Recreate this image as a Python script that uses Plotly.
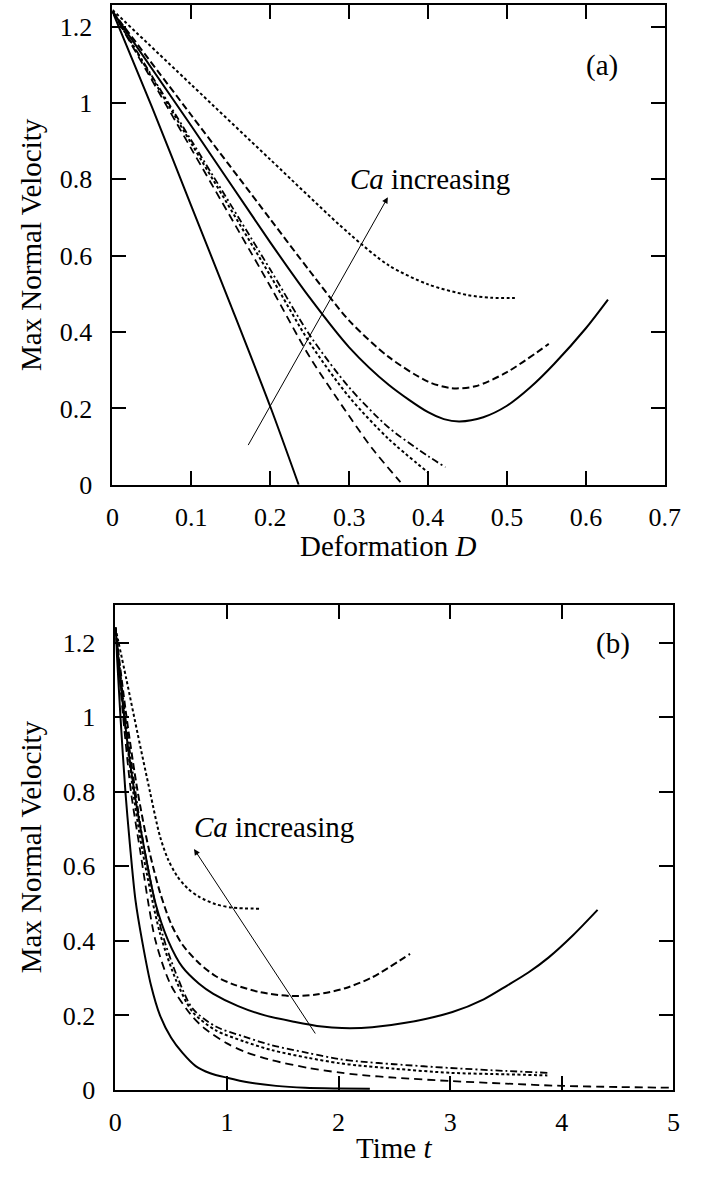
import plotly.graph_objects as go

# ---------------- panel (a): max normal velocity vs deformation D ----------------
a1_D = [0, 0.05, 0.10, 0.15, 0.20, 0.236]
a1_V = [1.24, 0.99, 0.73, 0.47, 0.205, 0.0]

a2_D = [0, 0.10, 0.20, 0.25, 0.30, 0.33, 0.365]
a2_V = [1.24, 0.88, 0.52, 0.335, 0.18, 0.093, 0.007]

a3_D = [0, 0.10, 0.20, 0.25, 0.30, 0.35, 0.3995]
a3_V = [1.24, 0.894, 0.548, 0.372, 0.23, 0.12, 0.033]

a4_D = [0, 0.10, 0.20, 0.25, 0.30, 0.35, 0.40, 0.422]
a4_V = [1.24, 0.902, 0.564, 0.392, 0.255, 0.15, 0.075, 0.046]

a5_D = [0, 0.10, 0.20, 0.25, 0.30, 0.35, 0.40, 0.42, 0.44, 0.47, 0.50, 0.53, 0.56, 0.60, 0.628]
a5_V = [1.24, 0.94, 0.635, 0.49, 0.36, 0.262, 0.19, 0.172, 0.166, 0.177, 0.207, 0.256, 0.317, 0.41, 0.485]

a6_D = [0, 0.10, 0.20, 0.25, 0.30, 0.35, 0.40, 0.43, 0.46, 0.50, 0.553]
a6_V = [1.24, 0.968, 0.696, 0.56, 0.43, 0.335, 0.27, 0.253, 0.258, 0.295, 0.369]

a7_D = [0, 0.10, 0.20, 0.30, 0.35, 0.40, 0.45, 0.48, 0.51]
a7_V = [1.244, 1.048, 0.852, 0.658, 0.575, 0.525, 0.497, 0.490, 0.489]

# ---------------- panel (b): max normal velocity vs time t ----------------
b1_t = [0, 0.046, 0.09, 0.13, 0.18, 0.24, 0.32, 0.40, 0.5, 0.6, 0.72, 0.85, 1.0, 1.2, 1.44, 1.7, 2.0, 2.28]
b1_V = [1.24, 1.0, 0.8, 0.66, 0.51, 0.4, 0.28, 0.2, 0.14, 0.1, 0.064, 0.045, 0.033, 0.02, 0.011, 0.006, 0.004, 0.003]

b2_t = [0, 0.07, 0.14, 0.22, 0.36, 0.5, 0.693, 0.8, 1.0, 1.155, 1.4, 1.733, 2.0, 2.17, 2.5, 3.0, 3.5, 4.0, 4.5, 5.0]
b2_V = [1.24, 1.0, 0.8, 0.646, 0.4, 0.28, 0.196, 0.165, 0.125, 0.103, 0.08, 0.059, 0.047, 0.041, 0.033, 0.024, 0.017, 0.011, 0.008, 0.006]

b3_t = [0, 0.08, 0.16, 0.24, 0.40, 0.55, 0.693, 0.9, 1.155, 1.4, 1.73, 2.0, 2.17, 2.5, 3.0, 3.5, 3.87]
b3_V = [1.24, 1.0, 0.8, 0.646, 0.42, 0.29, 0.209, 0.16, 0.13, 0.107, 0.086, 0.072, 0.066, 0.057, 0.046, 0.042, 0.039]

b4_t = [0, 0.09, 0.18, 0.26, 0.42, 0.56, 0.693, 0.9, 1.155, 1.4, 1.73, 2.0, 2.17, 2.5, 3.0, 3.5, 3.87]
b4_V = [1.24, 1.0, 0.8, 0.646, 0.42, 0.30, 0.218, 0.17, 0.143, 0.12, 0.099, 0.083, 0.077, 0.069, 0.059, 0.051, 0.046]

b5_t = [0, 0.08, 0.17, 0.26, 0.36, 0.474, 0.6, 0.75, 0.878, 1.1, 1.34, 1.6, 1.85, 2.03, 2.3, 2.6, 3.02, 3.3, 3.51, 3.7, 3.88, 4.1, 4.32]
b5_V = [1.24, 1.0, 0.8, 0.646, 0.5, 0.4, 0.33, 0.285, 0.258, 0.225, 0.2, 0.183, 0.17, 0.166, 0.168, 0.18, 0.209, 0.243, 0.28, 0.315, 0.355, 0.415, 0.483]

b6_t = [0, 0.1, 0.2, 0.3, 0.4, 0.5, 0.6, 0.75, 0.9, 1.05, 1.3, 1.57, 1.8, 2.06, 2.3, 2.64]
b6_V = [1.24, 1.0, 0.8, 0.646, 0.53, 0.445, 0.39, 0.34, 0.305, 0.284, 0.262, 0.252, 0.256, 0.273, 0.302, 0.365]

b7_t = [0, 0.1, 0.2, 0.31, 0.4, 0.47, 0.55, 0.65, 0.75, 0.9, 1.05, 1.31]
b7_V = [1.24, 1.1, 0.955, 0.8, 0.68, 0.62, 0.575, 0.54, 0.518, 0.498, 0.489, 0.486]

# tick labels
a_xticks = [0, 0.1, 0.2, 0.3, 0.4, 0.5, 0.6, 0.7]
a_xlabels = ["0", "0.1", "0.2", "0.3", "0.4", "0.5", "0.6", "0.7"]
b_xticks = [0, 1, 2, 3, 4, 5]
b_xlabels = ["0", "1", "2", "3", "4", "5"]
yticks = [0, 0.2, 0.4, 0.6, 0.8, 1.0, 1.2]
ylabels = ["0", "0.2", "0.4", "0.6", "0.8", "1", "1.2"]

FONT = "Liberation Serif"
W, H = 704, 1181

# line styles (same style per capillary number in both panels)
styles = [
    dict(color="black", width=2, dash="solid"),
    dict(color="black", width=1.8, dash="8px,5px"),
    dict(color="black", width=2, dash="3px,2.5px"),
    dict(color="black", width=1.8, dash="7px,3px,2px,3px"),
    dict(color="black", width=2, dash="solid"),
    dict(color="black", width=2, dash="7px,3.5px"),
    dict(color="black", width=2, dash="3px,2.5px"),
]

fig = go.Figure()
a_series = [(a1_D, a1_V), (a2_D, a2_V), (a3_D, a3_V), (a4_D, a4_V),
            (a5_D, a5_V), (a6_D, a6_V), (a7_D, a7_V)]
b_series = [(b1_t, b1_V), (b2_t, b2_V), (b3_t, b3_V), (b4_t, b4_V),
            (b5_t, b5_V), (b6_t, b6_V), (b7_t, b7_V)]

for (xs, ys), st in zip(a_series, styles):
    fig.add_trace(go.Scatter(x=xs, y=ys, mode="lines", line=dict(shape="spline", smoothing=0.8, **st),
                             xaxis="x", yaxis="y", showlegend=False, hoverinfo="skip"))
for (xs, ys), st in zip(b_series, styles):
    fig.add_trace(go.Scatter(x=xs, y=ys, mode="lines", line=dict(shape="spline", smoothing=0.8, **st),
                             xaxis="x2", yaxis="y2", showlegend=False, hoverinfo="skip"))

axis_common = dict(
    showline=True, linecolor="black", linewidth=2, mirror="ticks",
    ticks="inside", ticklen=14, tickwidth=2, tickcolor="black",
    showgrid=False, zeroline=False,
    tickfont=dict(family=FONT, size=26, color="black"),
    fixedrange=True,
)

# pixel geometry of the two frames
a_left, a_right, a_top, a_bottom = 109, 680, 5, 491
b_left, b_right, b_top, b_bottom = 112, 689, 613, 1104

fig.update_layout(
    width=W, height=H,
    margin=dict(l=0, r=0, t=0, b=0),
    paper_bgcolor="white", plot_bgcolor="white",
    xaxis=dict(domain=[a_left / W, a_right / W], range=[0, 0.7], anchor="y",
               tickvals=a_xticks, ticktext=a_xlabels, ticklabelstandoff=8, **axis_common),
    yaxis=dict(domain=[1 - a_bottom / H, 1 - a_top / H], range=[0, 1.257], anchor="x",
               tickvals=yticks, ticktext=ylabels, ticklabelstandoff=13, **axis_common),
    xaxis2=dict(domain=[b_left / W, b_right / W], range=[0, 5], anchor="y2",
                tickvals=b_xticks, ticktext=b_xlabels, ticklabelstandoff=8, **axis_common),
    yaxis2=dict(domain=[1 - b_bottom / H, 1 - b_top / H], range=[0, 1.3], anchor="x2",
                tickvals=yticks, ticktext=ylabels, ticklabelstandoff=13, **axis_common),
)

txt = dict(family=FONT, size=29, color="black")
ann = [
    # axis titles
    dict(text="Deformation <i>D</i>", x=394 / W, y=1 - 553 / H, xref="paper", yref="paper",
         showarrow=False, font=txt, xanchor="center", yanchor="middle"),
    dict(text="Time <i>t</i>", x=400 / W, y=1 - 1163 / H, xref="paper", yref="paper",
         showarrow=False, font=txt, xanchor="center", yanchor="middle"),
    dict(text="Max Normal Velocity", x=25 / W, y=1 - 248 / H, xref="paper", yref="paper",
         showarrow=False, font=txt, textangle=-90, xanchor="center", yanchor="middle"),
    dict(text="Max Normal Velocity", x=25 / W, y=1 - 858 / H, xref="paper", yref="paper",
         showarrow=False, font=txt, textangle=-90, xanchor="center", yanchor="middle"),
    # panel labels
    dict(text="(a)", x=0.62, y=1.098, xref="x", yref="y", showarrow=False, font=txt),
    dict(text="(b)", x=4.454, y=1.197, xref="x2", yref="y2", showarrow=False, font=txt),
    # trend arrows
    dict(text="", x=0.349, y=0.753, ax=0.171, ay=0.100, xref="x", yref="y", axref="x", ayref="y",
         showarrow=True, arrowhead=2, arrowsize=1.2, arrowwidth=1, arrowcolor="black", standoff=0),
    dict(text="", x=0.705, y=0.646, ax=1.80, ay=0.1475, xref="x2", yref="y2", axref="x2", ayref="y2",
         showarrow=True, arrowhead=2, arrowsize=1.2, arrowwidth=1, arrowcolor="black", standoff=0),
    dict(text="<i>Ca</i> increasing", x=0.299, y=0.80, xref="x", yref="y", showarrow=False,
         font=txt, xanchor="left", yanchor="middle"),
    dict(text="<i>Ca</i> increasing", x=0.69, y=0.705, xref="x2", yref="y2", showarrow=False,
         font=txt, xanchor="left", yanchor="middle"),
]
fig.update_layout(annotations=ann)

fig.write_html("out.html")
